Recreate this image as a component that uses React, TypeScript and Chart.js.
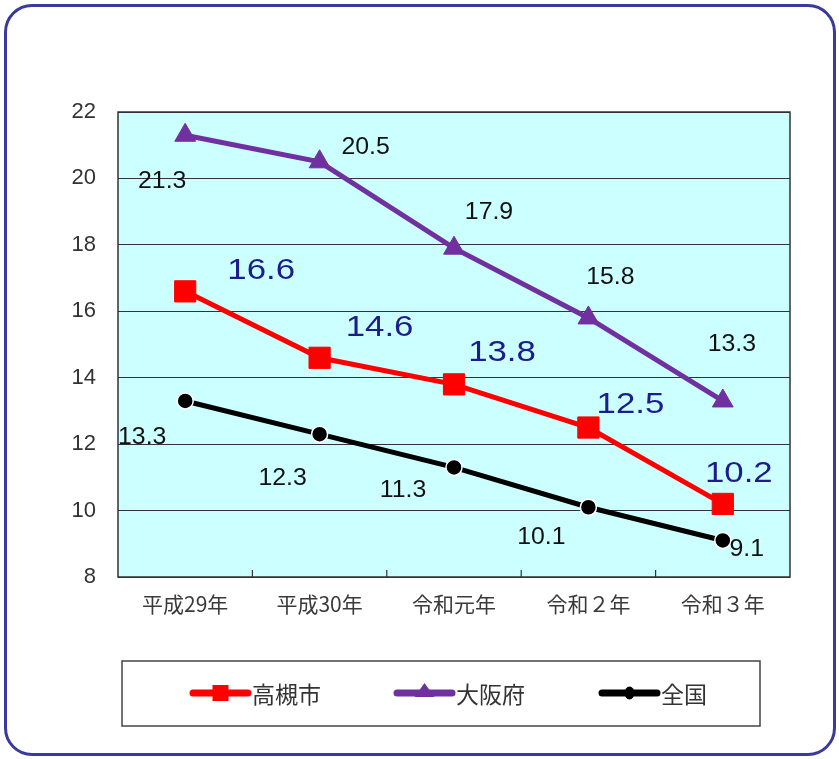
import React, { useEffect, useRef } from 'react';
import { Chart, registerables } from 'chart.js';

Chart.register(...registerables);

// ---- data ----
const categories = ['平成29年', '平成30年', '令和元年', '令和２年', '令和３年'];
const seriesNames = ['高槻市', '大阪府', '全国'];
const takatsukiValues = [16.6, 14.6, 13.8, 12.5, 10.2];
const osakaValues = [21.3, 20.5, 17.9, 15.8, 13.3];
const nationalValues = [13.3, 12.3, 11.3, 10.1, 9.1];
const yTickValues = [8, 10, 12, 14, 16, 18, 20, 22];

// ---- label placement (pixel offsets from each point) ----
const takatsukiLabelOffsets = [[76, -20], [60, -30], [48, -31], [42, -23], [16, -30]];
const osakaLabelOffsets = [[-23, 46], [46, -14], [35, -36], [22, -40], [9, -56]];
const nationalLabelOffsets = [[-43, 37], [-37, 44], [-51, 23], [-47, 30], [24, 9]];

const NUM_FONT = "'Liberation Sans', Arial, 'Noto Sans CJK JP', sans-serif";
const JP_FONT = "'Noto Sans CJK JP', 'Liberation Sans', sans-serif";

const seriesStyles = [
  { color: '#FF0000', pointStyle: 'rect', radius: 15, labelColor: '#1C1C8C', labelSize: 29, stretch: 1.2, offsets: takatsukiLabelOffsets },
  { color: '#7030A0', pointStyle: 'triangle', radius: 12, labelColor: '#111111', labelSize: 23, stretch: 1.08, offsets: osakaLabelOffsets },
  { color: '#000000', pointStyle: 'circle', radius: 8, labelColor: '#111111', labelSize: 23, stretch: 1.08, offsets: nationalLabelOffsets },
];

const plotPlugin = {
  id: 'plotDecor',
  beforeDraw(chart: any) {
    const { ctx, chartArea } = chart;
    const { left, top, right, bottom } = chartArea;
    ctx.save();
    ctx.fillStyle = '#CCFFFF';
    ctx.fillRect(left, top, right - left, bottom - top);
    ctx.restore();
  },
  beforeDatasetsDraw(chart: any) {
    const { ctx, chartArea, scales } = chart;
    const { left, top, right, bottom } = chartArea;
    ctx.save();
    ctx.strokeStyle = '#333333';
    ctx.lineWidth = 1.5;
    ctx.strokeRect(left, top, right - left, bottom - top);
    // inward tick marks between categories
    const xs = scales.x;
    ctx.lineWidth = 1.2;
    for (let i = 1; i < categories.length; i++) {
      const px = (xs.getPixelForValue(i - 1) + xs.getPixelForValue(i)) / 2;
      ctx.beginPath();
      ctx.moveTo(px, bottom);
      ctx.lineTo(px, bottom - 7);
      ctx.stroke();
    }
    ctx.restore();
  },
  afterDatasetsDraw(chart: any) {
    const { ctx } = chart;
    chart.data.datasets.forEach((ds: any, di: number) => {
      const st = seriesStyles[di];
      const meta = chart.getDatasetMeta(di);
      meta.data.forEach((pt: any, i: number) => {
        const off = st.offsets[i];
        ctx.save();
        ctx.translate(pt.x + off[0], pt.y + off[1]);
        ctx.scale(st.stretch, 1);
        ctx.textAlign = 'center';
        ctx.textBaseline = 'middle';
        ctx.fillStyle = st.labelColor;
        ctx.font = `${st.labelSize}px ${NUM_FONT}`;
        ctx.fillText(ds.data[i].toFixed(1), 0, 0);
        ctx.restore();
      });
    });
  },
  afterDraw(chart: any) {
    const { ctx } = chart;
    ctx.save();
    // legend box
    const bx = 122, by = 661, bw = 638, bh = 65;
    ctx.fillStyle = '#FFFFFF';
    ctx.fillRect(bx, by, bw, bh);
    ctx.strokeStyle = '#444444';
    ctx.lineWidth = 1.5;
    ctx.strokeRect(bx, by, bw, bh);
    const starts = [193, 397, 602];
    const cy = 693;
    chart.data.datasets.forEach((ds: any, di: number) => {
      const st = seriesStyles[di];
      const x0 = starts[di];
      const x1 = x0 + 55;
      ctx.strokeStyle = st.color;
      ctx.lineWidth = 7;
      ctx.lineCap = 'round';
      ctx.beginPath();
      ctx.moveTo(x0, cy);
      ctx.lineTo(x1, cy);
      ctx.stroke();
      ctx.fillStyle = st.color;
      const mx = (x0 + x1) / 2;
      ctx.beginPath();
      if (st.pointStyle === 'rect') {
        ctx.rect(mx - 8, cy - 8, 16, 16);
      } else if (st.pointStyle === 'triangle') {
        ctx.moveTo(mx, cy - 10);
        ctx.lineTo(mx + 10, cy + 4);
        ctx.lineTo(mx - 10, cy + 4);
        ctx.closePath();
      } else {
        ctx.ellipse(mx, cy, 5, 6.5, 0, 0, Math.PI * 2);
      }
      ctx.fill();
      ctx.fillStyle = '#333333';
      ctx.font = `23px ${JP_FONT}`;
      ctx.textAlign = 'left';
      ctx.textBaseline = 'middle';
      ctx.fillText(ds.label, x1 + 4, cy + 1);
    });
    ctx.restore();
  },
};

export default function App() {
  const canvasRef = useRef<HTMLCanvasElement | null>(null);

  useEffect(() => {
    if (!canvasRef.current) return;
    const valueSets = [takatsukiValues, osakaValues, nationalValues];
    const chart = new Chart(canvasRef.current, {
      type: 'line',
      data: {
        labels: categories,
        datasets: valueSets.map((vals, i) => ({
          label: seriesNames[i],
          data: vals,
          borderColor: seriesStyles[i].color,
          backgroundColor: seriesStyles[i].color,
          borderWidth: 5,
          pointStyle: seriesStyles[i].pointStyle as any,
          pointRadius: seriesStyles[i].radius,
          pointBorderColor: i === 2 ? '#FFFFFF' : seriesStyles[i].color,
          pointBorderWidth: i === 2 ? 1.5 : 1,
          pointBackgroundColor: seriesStyles[i].color,
          tension: 0,
          fill: false,
          clip: false as any,
        })),
      },
      options: {
        animation: false,
        responsive: true,
        maintainAspectRatio: false,
        layout: { padding: { top: 112, right: 49, bottom: 0, left: 0 } },
        plugins: {
          legend: { display: false },
          tooltip: { enabled: false },
          title: { display: false },
        },
        scales: {
          x: {
            type: 'category',
            offset: true,
            grid: { display: false, drawTicks: false },
            border: { display: false },
            ticks: {
              color: '#3A3A3A',
              font: { size: 21, family: JP_FONT },
              padding: 14,
              maxRotation: 0,
              autoSkip: false,
            },
            afterFit: (s: any) => {
              s.height = 182;
            },
          },
          y: {
            min: 8,
            max: 22,
            grid: { color: '#333333', lineWidth: 1, drawTicks: false },
            border: { display: false },
            ticks: {
              color: '#333333',
              font: { size: 22, family: NUM_FONT },
              padding: 22,
            },
            afterBuildTicks: (s: any) => {
              s.ticks = yTickValues.map((v) => ({ value: v }));
            },
            afterFit: (s: any) => {
              s.width = 118;
            },
          },
        },
      },
      plugins: [plotPlugin],
    });
    return () => chart.destroy();
  }, []);

  return (
    <div style={{ position: 'absolute', left: 0, top: 0, width: 839, height: 759, background: '#FFFFFF' }}>
      <div
        style={{
          position: 'absolute',
          left: 4,
          top: 4,
          width: 826,
          height: 746,
          border: '3px solid #3A3A9E',
          borderRadius: 28,
        }}
      />
      <div style={{ position: 'absolute', left: 0, top: 0, width: 839, height: 759 }}>
        <canvas ref={canvasRef} />
      </div>
    </div>
  );
}
